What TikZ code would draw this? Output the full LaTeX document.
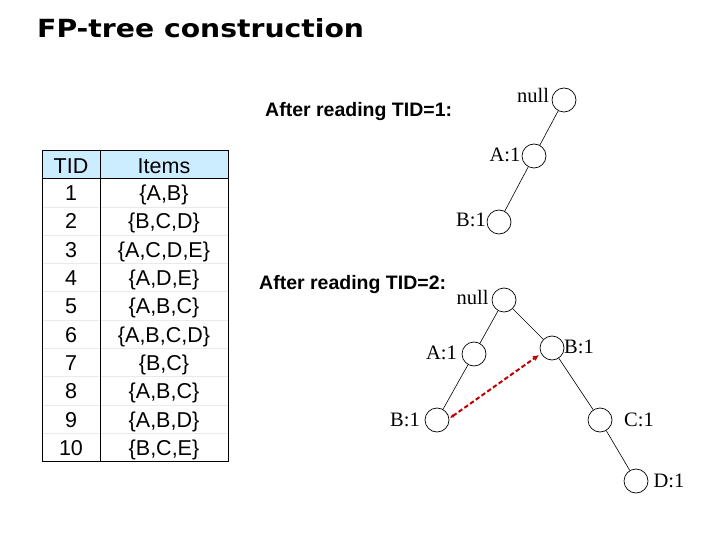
\documentclass[tikz,border=0pt]{standalone}
\usepackage{fontspec}
\setmainfont{Liberation Serif}
\newfontfamily\arialfont{Liberation Sans}
\newfontfamily\titlefont{DejaVu Sans}
\usetikzlibrary{arrows.meta}
\definecolor{hdrblue}{HTML}{CCECFF}
\definecolor{arrowred}{HTML}{C00000}
\definecolor{rowline}{HTML}{EAEAEA}
\begin{document}
\begin{tikzpicture}[x=1pt,y=-1pt,
  treenode/.style={draw,circle,minimum size=24pt,inner sep=0pt,line width=0.7pt},
  treelabel/.style={font=\fontsize{20.5}{23}\selectfont,inner sep=0pt},
  tcell/.style={font=\arialfont\fontsize{21.5}{24}\selectfont,inner sep=0pt,anchor=base},
  heading/.style={font=\arialfont\bfseries\fontsize{19.5}{22}\selectfont,inner sep=0pt,anchor=west},
  edge/.style={line width=0.6pt}]
\useasboundingbox (0,0) rectangle (720,540);
% title
\node[font=\titlefont\bfseries\fontsize{25}{28}\selectfont,inner sep=0pt,anchor=west,xscale=1.13] (title) at (37,28) {FP-tree construction};
% table
\fill[hdrblue] (42.5,150) rectangle (228.5,178.5);
\foreach \k in {1,...,9}{
  \draw[rowline,line width=0.5pt] (42.5,178.5+28.3*\k) -- (228.5,178.5+28.3*\k);
}
\draw[line width=0.8pt] (42.5,150) rectangle (228.5,461.5);
\draw[line width=0.8pt] (42.5,178.5) -- (228.5,178.5);
\draw[line width=0.8pt] (100,150) -- (100,461.5);
\node[tcell] (h1) at (71,173.3) {TID};
\node[tcell] (h2) at (164,173.3) {Items};
\foreach \i/\it [count=\k from 0] in {1/{\{A,B\}},2/{\{B,C,D\}},3/{\{A,C,D,E\}},4/{\{A,D,E\}},5/{\{A,B,C\}},6/{\{A,B,C,D\}},7/{\{B,C\}},8/{\{A,B,C\}},9/{\{A,B,D\}},10/{\{B,C,E\}}}{
  \node[tcell] (tid\i) at (71,200.7+28.3*\k) {\i};
  \node[tcell] (items\i) at (164,200.7+28.3*\k) {\it};
}
% headings
\node[heading] (head1) at (265,112) {After reading TID=1:};
\node[heading] (head2) at (259,285) {After reading TID=2:};
% tree 1
\node[treenode] (n1) at (564,100) {};
\node[treenode] (a1) at (534,156) {};
\node[treenode] (b1) at (499,222) {};
\node[treelabel] (ln1) at (533,95) {null};
\node[treelabel] (la1) at (505,155) {A:1};
\node[treelabel] (lb1) at (471,220) {B:1};
\draw[edge] (n1) -- (a1);
\draw[edge] (a1) -- (b1);
% tree 2
\node[treenode] (n2) at (504,300) {};
\node[treenode] (a2) at (474,354) {};
\node[treenode] (b2r) at (552,348) {};
\node[treenode] (b2l) at (437,420) {};
\node[treenode] (c2) at (600,420) {};
\node[treenode] (d2) at (636,481) {};
\node[treelabel] (ln2) at (472.5,297) {null};
\node[treelabel] (la2) at (441.5,353) {A:1};
\node[treelabel] (lb2r) at (579,347) {B:1};
\node[treelabel] (lb2l) at (405,420) {B:1};
\node[treelabel] (lc2) at (639,420) {C:1};
\node[treelabel] (ld2) at (669,481) {D:1};
\draw[edge] (n2) -- (a2);
\draw[edge] (n2) -- (b2r);
\draw[edge] (a2) -- (b2l);
\draw[edge] (b2r) -- (c2);
\draw[edge] (c2) -- (d2);
\coordinate (arrs) at (450,418);
\coordinate (arre) at (539,355);
\draw[arrowred,line width=2pt,dash pattern=on 4.5pt off 2.5pt,
  {Latex[length=4pt,width=4pt]}-{Latex[length=6pt,width=6pt]}]
  (arrs) -- (arre);
\end{tikzpicture}
\end{document}
